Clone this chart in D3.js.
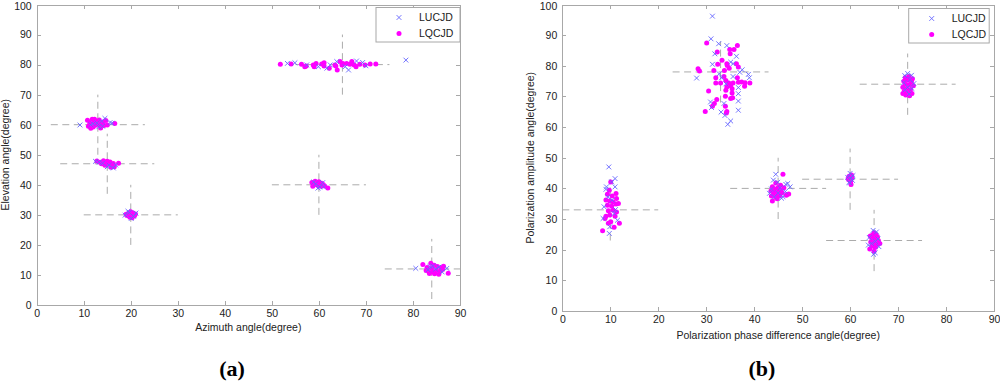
<!DOCTYPE html>
<html>
<head>
<meta charset="utf-8">
<title>LUCJD vs LQCJD</title>
<script src="https://cdn.jsdelivr.net/npm/d3@7"></script>
<style>
  body { margin: 0; background: #fff; }
  svg text { font-family: Arial, "Liberation Sans", sans-serif; fill: #222; }
  .axis path, .axis line { stroke: #a8a8a8; shape-rendering: crispEdges; }
  .axis text { font-size: 10.5px; }
  .cross { stroke: #ababab; stroke-dasharray: 7,4.5; fill: none; }
  .panel-tag { font-family: "Times New Roman", "Liberation Serif", serif; font-weight: bold; font-size: 22px; fill: #000; }
</style>
</head>
<body>
<script>
// tick values shared by both panels
var xTicks = [0, 10, 20, 30, 40, 50, 60, 70, 80, 90];
var yTicks = [0, 10, 20, 30, 40, 50, 60, 70, 80, 90, 100];
var seriesNames = ["LUCJD", "LQCJD"];

// (a) true source positions (azimuth, elevation)
var aTruth = [[13, 60], [15, 47], [20, 30], [65, 80], [60, 40], [84, 12]];

// (a) LUCJD estimates
var aLUCJD = [
  [9.2, 59.9], [14.5, 62.1], [15.6, 60.7], [12.0, 60.3], [13.2, 59.3], [12.8, 60.6], [11.5, 60.0], [14.0, 59.5], [16.0, 60.5], [13.8, 61.2],
  [12.5, 47.8], [14.0, 47.2], [15.4, 46.5], [16.3, 45.6], [16.8, 46.6], [15.0, 46.0], [13.3, 47.5],
  [18.8, 29.9], [19.7, 30.8], [20.6, 29.5], [20.1, 28.8], [21.1, 30.6], [19.4, 31.2],
  [53.3, 80.4], [54.9, 80.6], [57.4, 79.9], [59.9, 79.3], [61.7, 78.8], [62.4, 79.9], [65.6, 79.3], [66.3, 78.2], [68.0, 81.2], [69.3, 80.7], [70.0, 79.6], [63.8, 81.0], [78.5, 81.5],
  [59.3, 40.3], [60.2, 39.3], [58.9, 40.9], [60.8, 40.7], [59.8, 38.9], [61.0, 39.3],
  [80.6, 12.2], [87.2, 12.2], [83.6, 12.8], [84.8, 11.9], [85.5, 12.6], [83.2, 11.7], [84.2, 13.0], [86.2, 11.0]
];

// (a) LQCJD estimates
var aLQCJD = [
  [10.8, 61.5], [11.3, 60.5], [11.0, 59.5], [11.8, 61.8], [12.2, 60.8], [12.0, 59.2], [12.7, 61.0], [12.5, 59.8], [13.3, 61.6], [13.0, 60.2],
  [13.6, 58.9], [14.0, 60.8], [14.3, 59.7], [14.7, 61.4], [13.5, 60.0], [11.5, 58.8], [15.0, 59.9], [16.6, 60.4], [12.3, 61.8],
  [12.8, 47.9], [13.5, 47.5], [14.2, 48.0], [14.8, 47.3], [13.8, 47.0], [15.2, 46.8], [15.6, 47.6], [14.5, 46.5], [16.0, 46.3], [16.5, 46.0],
  [15.8, 45.8], [17.4, 47.2], [15.0, 47.8], [16.3, 47.1],
  [19.5, 30.5], [20.0, 31.0], [20.5, 30.6], [19.2, 29.8], [20.2, 30.0], [20.8, 29.7], [19.8, 29.2], [20.3, 29.0], [19.0, 30.2], [21.0, 30.3],
  [51.8, 80.1], [54.1, 80.2], [56.3, 80.1], [57.3, 79.5], [58.8, 79.9], [59.4, 80.4], [60.6, 80.2], [61.1, 79.5], [62.2, 78.8], [63.4, 79.9],
  [64.5, 81.0], [64.9, 79.9], [65.9, 80.4], [67.0, 81.0], [67.5, 79.9], [68.7, 80.1], [69.8, 79.9], [70.9, 80.2], [72.1, 80.2],
  [57.0, 79.3], [59.0, 79.3], [63.9, 78.2], [63.6, 79.5], [65.1, 80.4], [66.6, 80.1], [67.9, 79.3], [61.1, 80.6],
  [58.5, 40.8], [59.2, 41.2], [60.0, 41.0], [60.6, 40.5], [59.0, 40.0], [59.8, 39.8], [60.4, 39.5], [58.7, 39.5], [61.2, 39.6], [61.9, 38.9], [59.5, 40.4], [60.9, 40.1],
  [82.1, 13.5], [83.0, 12.5], [83.8, 13.9], [84.5, 13.2], [85.2, 12.8], [86.0, 12.4], [83.3, 11.2], [84.2, 11.0], [85.0, 11.5], [85.8, 11.2],
  [84.6, 10.4], [85.5, 10.2], [86.3, 11.8], [83.5, 10.5], [87.5, 10.6], [82.8, 11.5], [84.0, 12.2], [86.5, 12.9]
];

// (b) true source positions (phase difference, amplitude)
var bTruth = [[10, 33], [33, 78], [45, 40], [60, 43], [65, 23], [72, 74]];

// (b) LUCJD estimates
var bLUCJD = [
  [9.7, 47.0], [11.0, 43.2], [10.3, 42.1], [9.1, 39.7], [11.0, 40.5], [9.2, 40.5], [8.7, 34.0], [10.8, 31.8], [8.5, 30.2], [9.9, 27.5],
  [11.5, 29.6], [10.4, 36.2], [9.5, 37.2], [11.1, 33.1], [9.8, 25.3],
  [31.3, 96.2], [31.0, 88.8], [32.6, 87.2], [34.3, 86.6], [31.8, 83.9], [36.3, 83.1], [31.3, 80.5], [35.1, 81.2], [35.6, 80.7], [37.5, 78.7],
  [37.0, 77.9], [38.8, 77.2], [39.0, 76.1], [28.0, 76.0], [32.7, 77.4], [33.2, 76.1], [35.6, 76.5], [36.7, 72.9], [30.9, 68.2], [36.7, 70.9],
  [36.7, 68.5], [36.7, 65.5], [31.1, 66.4], [33.1, 64.9], [33.9, 63.8], [35.1, 62.0], [34.5, 60.9], [33.7, 67.7], [34.1, 74.1],
  [44.5, 44.6], [44.0, 42.7], [47.0, 41.6], [46.6, 41.3], [45.4, 40.2], [43.6, 39.8], [46.5, 39.0], [45.0, 38.5], [44.2, 37.2], [46.0, 37.3],
  [45.7, 36.8], [43.2, 38.4], [47.5, 40.5], [44.9, 42.0],
  [60.0, 44.9], [59.5, 43.6], [60.5, 42.6], [59.8, 42.0], [60.2, 43.5], [59.9, 41.8], [60.6, 44.2],
  [64.8, 26.3], [65.5, 25.8], [64.0, 24.0], [65.8, 23.5], [66.0, 21.0], [64.5, 22.0], [65.2, 19.0], [64.9, 18.5], [65.3, 22.7], [63.8, 21.5],
  [72.0, 77.5], [71.4, 76.8], [72.8, 76.9], [72.5, 75.5], [71.2, 74.5], [73.3, 74.2], [72.0, 73.0], [72.9, 72.6], [71.5, 72.2], [72.3, 70.8]
];

// (b) LQCJD estimates
var bLQCJD = [
  [10.1, 42.1], [9.8, 39.4], [9.4, 38.1], [10.4, 37.5], [11.2, 38.3], [9.1, 36.2], [9.9, 35.9], [10.6, 35.6], [9.4, 34.5], [10.3, 34.2],
  [11.2, 34.9], [11.3, 36.7], [11.7, 35.1], [9.6, 32.7], [10.6, 32.9], [11.3, 32.3], [9.1, 30.9], [9.9, 31.3], [11.0, 30.9], [11.9, 28.6],
  [9.6, 28.6], [10.1, 29.1], [10.8, 27.3], [8.4, 26.2], [8.9, 30.2],
  [30.1, 87.4], [32.3, 84.5], [36.5, 86.6], [34.9, 85.3], [35.8, 85.3], [35.0, 83.9], [33.3, 81.8], [32.4, 80.5], [34.3, 80.7], [34.4, 80.1],
  [34.8, 79.2], [36.3, 80.7], [36.7, 79.6], [28.3, 79.0], [28.6, 78.3], [31.6, 78.5], [33.8, 78.5], [32.0, 76.1], [33.7, 76.5], [36.5, 76.1],
  [32.0, 74.4], [33.0, 74.4], [34.1, 75.2], [34.7, 74.4], [35.6, 74.4], [36.7, 74.6], [37.4, 74.7], [38.1, 74.5], [39.1, 74.4], [38.0, 73.3],
  [34.3, 73.1], [35.1, 73.5], [34.1, 72.0], [35.4, 72.5], [30.5, 71.8], [35.4, 71.1], [34.0, 70.1], [35.1, 69.3], [35.5, 69.6], [32.2, 69.0],
  [31.7, 67.7], [31.3, 66.8], [34.0, 66.8], [29.8, 65.1], [34.3, 65.1], [34.2, 64.6],
  [44.5, 41.8], [46.0, 44.6], [43.8, 40.5], [44.3, 39.8], [45.0, 40.3], [45.6, 39.5], [44.2, 38.8], [44.9, 38.2], [45.8, 38.6], [46.8, 38.0],
  [43.6, 37.5], [44.5, 37.0], [45.3, 37.6], [43.8, 35.9], [46.7, 37.8], [45.2, 39.2], [44.0, 38.0], [46.2, 40.2], [43.5, 39.2], [45.5, 41.0],
  [47.2, 38.2], [44.8, 36.6],
  [60.0, 43.5], [59.7, 42.8], [60.3, 43.2], [60.1, 42.2], [59.8, 44.0], [60.4, 43.8], [60.2, 41.3], [59.6, 43.3], [60.0, 42.5], [60.3, 44.4],
  [65.0, 25.5], [64.7, 24.8], [65.4, 25.0], [64.5, 23.8], [65.2, 23.5], [65.9, 23.0], [64.3, 22.5], [65.0, 22.2], [65.6, 21.8], [64.6, 21.2],
  [65.3, 20.8], [64.1, 20.2], [65.0, 19.5], [64.8, 23.0], [66.2, 22.0], [65.7, 24.2], [64.2, 24.5], [65.1, 21.0],
  [71.5, 76.2], [72.3, 76.5], [73.0, 75.8], [71.2, 75.0], [72.0, 75.3], [72.8, 74.8], [71.5, 74.0], [72.3, 73.8], [73.2, 73.5], [71.0, 73.0],
  [71.8, 72.6], [72.6, 72.3], [71.3, 71.8], [72.1, 71.3], [72.9, 71.0], [71.6, 70.5], [72.4, 70.2], [71.0, 71.0]
];

var crossHalf = 10;   // half length of the dashed reference cross, in degrees
var blueX = "#6565ff", magenta = "#ff00ff";

var svg = d3.select("body").append("svg")
    .attr("width", 1000)
    .attr("height", 383);

var xMark = "M-2.4,-2.4L2.4,2.4M-2.4,2.4L2.4,-2.4";

function panel(opts) {
    var x = d3.scaleLinear().domain([0, 90]).range([opts.left, opts.right]);
    var y = d3.scaleLinear().domain([0, 100]).range([opts.bottom, opts.top]);
    var g = svg.append("g");

    svg.append("clipPath").attr("id", opts.id)
        .append("rect")
        .attr("x", opts.left).attr("y", opts.top)
        .attr("width", opts.right - opts.left).attr("height", opts.bottom - opts.top);

    // axes, ticks pointing inward on all four sides
    g.append("g").attr("class", "axis")
        .attr("transform", "translate(0," + opts.bottom + ")")
        .call(d3.axisBottom(x).tickValues(xTicks).tickSize(-4).tickSizeOuter(0).tickPadding(5));
    g.append("g").attr("class", "axis")
        .attr("transform", "translate(" + opts.left + ",0)")
        .call(d3.axisLeft(y).tickValues(yTicks).tickSize(-4).tickSizeOuter(0).tickPadding(5))
        .selectAll("text").attr("dy", function (d) { return d === 100 ? "0.5em" : "0.32em"; });
    g.append("g").attr("class", "axis")
        .attr("transform", "translate(0," + opts.top + ")")
        .call(d3.axisTop(x).tickValues(xTicks).tickSize(-4).tickSizeOuter(0).tickFormat(""));
    g.append("g").attr("class", "axis")
        .attr("transform", "translate(" + opts.right + ",0)")
        .call(d3.axisRight(y).tickValues(yTicks).tickSize(-4).tickSizeOuter(0).tickFormat(""));

    // dashed crosses at the true positions
    var cross = g.append("g").attr("clip-path", "url(#" + opts.id + ")");
    cross.selectAll("line.h").data(opts.truth).enter().append("line")
        .attr("class", "cross h")
        .attr("x1", function (d) { return x(d[0] - crossHalf); })
        .attr("x2", function (d) { return x(d[0] + crossHalf); })
        .attr("y1", function (d) { return y(d[1]); })
        .attr("y2", function (d) { return y(d[1]); });
    cross.selectAll("line.v").data(opts.truth).enter().append("line")
        .attr("class", "cross v")
        .attr("x1", function (d) { return x(d[0]); })
        .attr("x2", function (d) { return x(d[0]); })
        .attr("y1", function (d) { return y(d[1] - crossHalf); })
        .attr("y2", function (d) { return y(d[1] + crossHalf); });

    g.append("g").selectAll("circle").data(opts.lq).enter().append("circle")
        .attr("cx", function (d) { return x(d[0]); })
        .attr("cy", function (d) { return y(d[1]); })
        .attr("r", 2.5)
        .attr("fill", magenta);

    g.append("g").selectAll("path").data(opts.lu).enter().append("path")
        .attr("d", xMark)
        .attr("transform", function (d) { return "translate(" + x(d[0]) + "," + y(d[1]) + ")"; })
        .attr("stroke", blueX)
        .attr("stroke-width", 0.9)
        .attr("fill", "none");

    // legend
    var lg = g.append("g").attr("transform", "translate(" + opts.legend[0] + "," + opts.legend[1] + ")");
    lg.append("rect").attr("width", opts.legend[2]).attr("height", 34.5)
        .attr("fill", "#fff").attr("stroke", "#a8a8a8");
    lg.append("path").attr("d", xMark).attr("transform", "translate(23,10)")
        .attr("stroke", blueX).attr("stroke-width", 0.9);
    lg.append("circle").attr("cx", 23).attr("cy", 26).attr("r", 2.5).attr("fill", magenta);
    lg.selectAll("text").data(seriesNames).enter().append("text")
        .attr("x", 43)
        .attr("y", function (d, i) { return 13.8 + i * 16; })
        .style("font-size", "10.5px")
        .text(function (d) { return d; });

    // titles
    g.append("text")
        .attr("x", (opts.left + opts.right) / 2)
        .attr("y", opts.xTitleY)
        .attr("text-anchor", "middle")
        .style("font-size", "10.5px")
        .text(opts.xTitle);
    g.append("text")
        .attr("transform", "translate(" + opts.yTitleX + "," + (opts.top + opts.bottom) / 2 + ") rotate(-90)")
        .attr("text-anchor", "middle")
        .style("font-size", "10.5px")
        .text(opts.yTitle);
    g.append("text")
        .attr("class", "panel-tag")
        .attr("x", opts.tagX)
        .attr("y", 376)
        .attr("text-anchor", "middle")
        .text(opts.tag);
}

panel({
    id: "clipA",
    left: 36.7, right: 460, top: 4.5, bottom: 305,
    truth: aTruth, lu: aLUCJD, lq: aLQCJD,
    legend: [376, 7.5, 84],
    xTitle: "Azimuth angle(degree)", xTitleY: 331,
    yTitle: "Elevation angle(degree)", yTitleX: 9,
    tag: "(a)", tagX: 232
});

panel({
    id: "clipB",
    left: 562.3, right: 994, top: 4.5, bottom: 311,
    truth: bTruth, lu: bLUCJD, lq: bLQCJD,
    legend: [908.7, 8.5, 80.5],
    xTitle: "Polarization phase difference angle(degree)", xTitleY: 339,
    yTitle: "Polarization amplitude angle(degree)", yTitleX: 534,
    tag: "(b)", tagX: 762
});
</script>
</body>
</html>
